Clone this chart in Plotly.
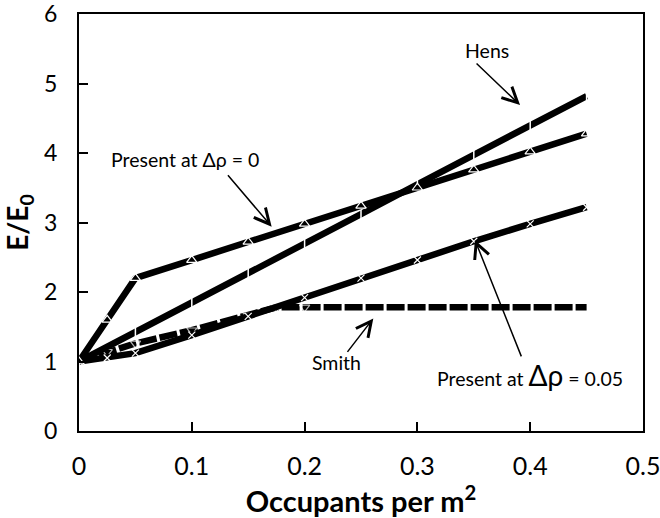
import plotly.graph_objects as go

# ---- data ----
x_present0 = [0, 0.025, 0.05, 0.1, 0.15, 0.2, 0.25, 0.3, 0.35, 0.4, 0.45]
y_present0 = [1.0, 1.6, 2.2, 2.46, 2.72, 2.98, 3.24, 3.50, 3.76, 4.02, 4.28]

x_hens = [0, 0.05, 0.1, 0.15, 0.2, 0.25, 0.3, 0.35, 0.4, 0.45]
y_hens = [1.0, 1.42, 1.85, 2.27, 2.70, 3.12, 3.55, 3.97, 4.40, 4.82]

x_present005 = [0, 0.025, 0.05, 0.1, 0.15, 0.2, 0.25, 0.3, 0.35, 0.4, 0.45]
y_present005 = [1.0, 1.05, 1.12, 1.38, 1.65, 1.92, 2.20, 2.46, 2.73, 2.98, 3.22]

x_smith = [0, 0.025, 0.05, 0.1, 0.15, 0.175, 0.2, 0.25, 0.3, 0.35, 0.4, 0.45]
y_smith = [1.0, 1.14, 1.26, 1.45, 1.66, 1.78, 1.78, 1.78, 1.78, 1.78, 1.78, 1.78]

x_ticks = [0, 0.1, 0.2, 0.3, 0.4, 0.5]
x_tick_labels = ["0", "0.1", "0.2", "0.3", "0.4", "0.5"]
y_ticks = [0, 1, 2, 3, 4, 5, 6]

FONT = "Lato"
LW = 6.5

fig = go.Figure()

smith_sizes = [9 if xv <= 0.2 else 0 for xv in x_smith]
fig.add_trace(go.Scatter(
    x=x_smith, y=y_smith, mode="lines+markers", name="Smith",
    line=dict(color="black", width=LW, dash="18px,3px"),
    marker=dict(symbol="triangle-down-open", size=smith_sizes, color="white",
                line=dict(color="white", width=1.2)),
))
fig.add_trace(go.Scatter(
    x=x_present005, y=y_present005, mode="lines+markers", name="Present at Δρ = 0.05",
    line=dict(color="black", width=LW),
    marker=dict(symbol="x-thin-open", size=7, color="white",
                line=dict(color="white", width=1.2)),
))
fig.add_trace(go.Scatter(
    x=x_hens, y=y_hens, mode="lines+markers", name="Hens",
    line=dict(color="black", width=LW),
    marker=dict(symbol="line-ns-open", size=8, color="white",
                line=dict(color="white", width=1.5)),
))
fig.add_trace(go.Scatter(
    x=x_present0, y=y_present0, mode="lines+markers", name="Present at Δρ = 0",
    line=dict(color="black", width=LW),
    marker=dict(symbol="triangle-up-open", size=9, color="white",
                line=dict(color="white", width=1.2)),
))

# ---- labels and arrows ----
lab_font = dict(family=FONT, size=19.5, color="black")
texts = [
    dict(x=0.3617, y=5.48, text="Hens"),
    dict(x=0.094, y=3.90, text="Present at Δρ = 0"),
    dict(x=0.2287, y=0.98, text="Smith"),
    dict(x=0.3998, y=0.81, text="Present at <span style='font-size:28px'>Δρ</span> = 0.05"),
]
for t in texts:
    fig.add_annotation(x=t["x"], y=t["y"], text=t["text"], showarrow=False,
                       font=lab_font, xanchor="center", yanchor="middle")

arrows = [
    dict(x=0.391, y=4.69, ax=-45, ay=-43),
    dict(x=0.1708, y=2.94, ax=-45, ay=-53),
    dict(x=0.2609, y=1.62, ax=-27, ay=35),
    dict(x=0.351, y=2.75, ax=47, ay=118),
]
for a in arrows:
    fig.add_annotation(x=a["x"], y=a["y"], ax=a["ax"], ay=a["ay"], text="",
                       showarrow=True, arrowhead=5, arrowsize=2.0, arrowwidth=1.5,
                       arrowcolor="black", standoff=0, startstandoff=0)

fig.update_layout(
    width=660, height=518,
    margin=dict(l=79, r=17, t=14, b=87),
    plot_bgcolor="white", paper_bgcolor="white",
    showlegend=False,
    font=dict(family=FONT, color="black"),
    xaxis=dict(
        range=[0, 0.5], tickvals=x_ticks, ticktext=x_tick_labels,
        ticks="inside", ticklen=9, tickwidth=2, tickcolor="black",
        showline=True, linecolor="black", linewidth=2, mirror=True,
        showgrid=False, zeroline=False, ticklabelstandoff=12,
        ticklabeloverflow="allow", automargin=False,
        tickfont=dict(family=FONT, size=25, color="black"),
        title=dict(text="<b>Occupants per m<sup>2</sup></b>",
                   font=dict(family=FONT, size=29, color="black"), standoff=8),
    ),
    yaxis=dict(
        range=[0, 6], tickvals=y_ticks,
        ticks="inside", ticklen=9, tickwidth=2, tickcolor="black",
        showline=True, linecolor="black", linewidth=2, mirror=True,
        showgrid=False, zeroline=False, ticklabelstandoff=15,
        ticklabeloverflow="allow", automargin=False,
        tickfont=dict(family=FONT, size=23, color="black"),
        title=dict(text="<b>E/E<sub>0</sub></b>",
                   font=dict(family=FONT, size=28, color="black"), standoff=13),
    ),
)

fig.write_html("out.html")
